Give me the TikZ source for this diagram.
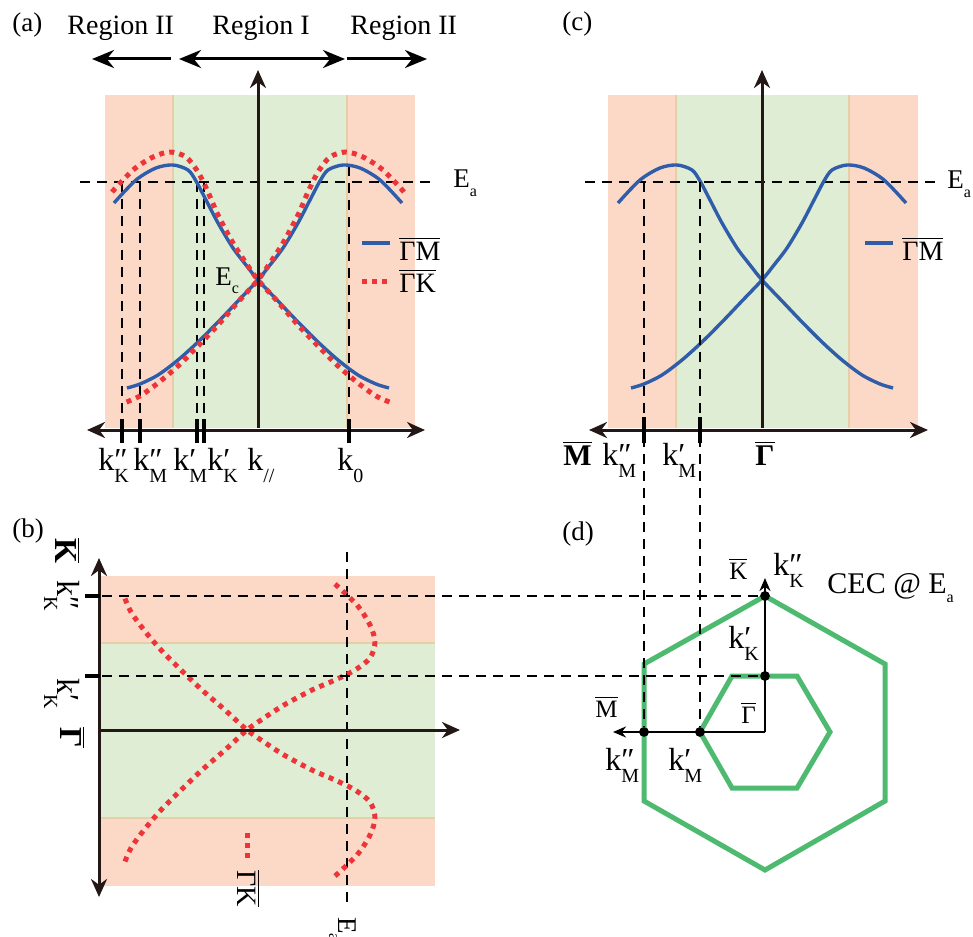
\documentclass[tikz,border=0pt]{standalone}
\usepackage{fontspec}
\setmainfont{Liberation Serif}
\usetikzlibrary{arrows.meta}

\definecolor{pinkbg}{HTML}{FCD9C7}
\definecolor{greenbg}{HTML}{DFEDD4}
\definecolor{edgetan}{HTML}{E6CFA6}
\definecolor{axisblk}{HTML}{231815}
\definecolor{bandblue}{HTML}{2F5DA9}
\definecolor{bandred}{HTML}{EE3438}
\definecolor{cecgreen}{HTML}{4DBA70}

% k with prime and subscript stacked
\newcommand{\kl}[2]{k\rlap{#1}\raisebox{-0.4em}{\fontsize{10}{10}\selectfont #2}}
\newcommand{\ovl}[1]{$\overline{\mbox{#1}}$}
\newcommand{\Elab}[1]{E\raisebox{-0.32em}{\fontsize{8}{8}\selectfont #1}}

\tikzset{
  kaxis/.style={line width=1.5pt, draw=axisblk},
  tick/.style={line width=1.6pt, draw=black},
  guide/.style={line width=1.45pt, dash pattern=on 5pt off 3.5pt},
  gmline/.style={draw=bandblue, line width=1.7pt},
  gkline/.style={draw=bandred, line width=2.5pt, dash pattern=on 2.5pt off 2.6pt},
  hexline/.style={draw=cecgreen, line width=2.5pt, line join=miter},
  bgedge/.style={draw=edgetan, line width=0.8pt},
  dot/.style={circle, fill=black, inner sep=0pt, minimum size=4.8pt},
  klabel/.style={anchor=base west, inner sep=0pt, font=\fontsize{16}{16}\selectfont},
  elabel/.style={anchor=base west, inner sep=0pt, font=\fontsize{13.5}{14}\selectfont},
  leglabel/.style={anchor=base west, inner sep=0pt, font=\fontsize{14}{14}\selectfont},
  panel/.style={anchor=base west, inner sep=0pt, font=\fontsize{13.5}{14}\selectfont},
  symlabel/.style={anchor=base west, inner sep=0pt, font=\fontsize{12.5}{13}\selectfont},
  boldlabel/.style={anchor=base west, inner sep=0pt, font=\fontsize{15}{15}\selectfont\bfseries},
  regtip/.tip={Stealth[length=11pt,width=9pt]},
  smalltip/.tip={Stealth[length=6.5pt,width=5.5pt]},
  % surface bands, drawn around the crossing point
  gmband/.pic={\draw[gmline] plot[smooth] coordinates {(-144,-77) (-122,-100) (-102,-112) (-85,-115) (-70,-110) (-62,-99) (-52,-80) (-40,-57) (-25,-32) (-12,-15) (0,0) (20,21) (40,42) (60,62) (80,80) (100,95) (118,104) (131,108)};},
  gkband/.pic={\draw[gkline] plot[smooth] coordinates {(-146,-88) (-125,-110) (-105,-123) (-88,-128) (-72,-123) (-60,-108) (-50,-88) (-40,-65) (-25,-37) (-12,-17) (0,0) (20,22) (40,45) (60,66) (80,86) (100,103) (118,116) (134,123)};}
}

\begin{document}
\begin{tikzpicture}[x=0.5pt, y=-0.5pt, >={Stealth[length=9pt,width=8pt]}, line join=round]
\useasboundingbox (0,0) rectangle (973,936);

% backgrounds: region I green, region II pink
\fill[pinkbg] (105,95) rectangle (415,428);
\fill[greenbg] (173,95) rectangle (347,428);
\draw[bgedge] (173,95) -- (173,428) (347,95) -- (347,428);
\fill[pinkbg] (608,95) rectangle (918,428);
\fill[greenbg] (676,95) rectangle (849,428);
\draw[bgedge] (676,95) -- (676,428) (849,95) -- (849,428);
\fill[pinkbg] (100,576) rectangle (435,886);
\fill[greenbg] (100,643) rectangle (435,818);
\draw[bgedge] (100,643) -- (435,643) (100,818) -- (435,818);

% points of the CEC in (d)
\coordinate (G) at (765,732);
\node[dot] (kKpp) at (765,596) {};
\node[dot] (kKp) at (765,676) {};
\node[dot] (kMpp) at (644,732) {};
\node[dot] (kMp) at (700,732) {};

% ---------------- (a) ----------------
\node[panel] (pa) at (12,32) {(a)};
\node[leglabel] (reg2l) at (67,35) {Region II};
\node[leglabel] (reg1) at (212,35) {Region I};
\node[leglabel] (reg2r) at (350,35) {Region II};
\draw[line width=1.5pt, regtip-] (92,59) -- (171,59);
\draw[line width=1.5pt, regtip-regtip] (179,59) -- (345,59);
\draw[line width=1.5pt, -regtip] (347,59) -- (427,59);

\coordinate (aEl) at (80,182);
\coordinate (aEr) at (436,182);
\draw[guide] (aEl) -- (aEr);
\node[elabel] (aEa) at (453,188) {\Elab{a}};
\foreach \x in {122,140,197,204}
  \draw[guide] (\x,182) -- (\x,430);
\draw[guide] (349,166) -- (349,430);

\pic at (258,280) {gmband};
\pic[xscale=-1] at (258,280) {gmband};
\pic at (258,280) {gkband};
\pic[xscale=-1] at (258,280) {gkband};

\coordinate (aL) at (87,430);
\coordinate (aR) at (425,430);
\draw[kaxis,<->] (aL) -- (aR);
\draw[kaxis,->] (258,428) -- (258,70);
\foreach \x in {122,140,197,204,349}
  \draw[tick] (\x,419) -- (\x,443);

\node[elabel] (aEc) at (215,285) {\Elab{c}};
\draw[gmline] (362,243) -- (390,243);
\node[leglabel] (aGM) at (399,260) {\ovl{ΓM}};
\draw[gkline] (362,281) -- (390,281);
\node[leglabel] (aGK) at (399,292) {\ovl{ΓK}};

\node[klabel] (akKpp) at (98,470) {\kl{″}{K}};
\node[klabel] (akMpp) at (133,470) {\kl{″}{M}};
\node[klabel] (akMp) at (173,470) {\kl{′}{M}};
\node[klabel] (akKp) at (207,470) {\kl{′}{K}};
\node[klabel] (akpar) at (247,470) {\kl{}{//}};
\node[klabel] (ak0) at (337,470) {\kl{}{0}};

% ---------------- (c) ----------------
\node[panel] (pc) at (562,31) {(c)};
\coordinate (cEl) at (585,182);
\coordinate (cEr) at (940,182);
\draw[guide] (cEl) -- (cEr);
\node[elabel] (cEa) at (947,189) {\Elab{a}};

\pic at (762,280) {gmband};
\pic[xscale=-1] at (762,280) {gmband};

\coordinate (cL) at (589,430);
\coordinate (cR) at (928,430);
\draw[kaxis,<->] (cL) -- (cR);
\draw[kaxis,->] (762,428) -- (762,70);
\foreach \x in {644,700}
  \draw[tick] (\x,417) -- (\x,443);

\draw[gmline] (865,243) -- (893,243);
\node[leglabel] (cGM) at (902,260) {\ovl{ΓM}};

\node[boldlabel] (cM) at (563,465) {\ovl{M}};
\node[klabel] (ckMpp) at (602,465) {\kl{″}{M}};
\node[klabel] (ckMp) at (662,465) {\kl{′}{M}};
\node[boldlabel] (cG) at (755,465) {\ovl{Γ}};

% ---------------- (b) ----------------
\node[panel] (pb) at (12,537) {(b)};
\coordinate (bKpp) at (85,596);
\coordinate (bKp) at (85,676);
\draw[guide] (347,552) -- (347,908);

\pic[rotate=-90] at (247,730) {gkband};
\pic[rotate=-90, xscale=-1] at (247,730) {gkband};

\draw[kaxis,<->] (99,897) -- (99,558);
\draw[kaxis,->] (99,730) -- (460,730);
\draw[tick] (bKpp) -- (100,596);
\draw[tick] (bKp) -- (100,676);

\draw[gkline] (247,833) -- (247,858);
\node[leglabel, rotate=-90] (bGK) at (237,870) {\ovl{ΓK}};
\node[elabel, rotate=-90] (bEa) at (338,917) {\Elab{a}};

\node[boldlabel, font=\fontsize{16}{16}\selectfont\bfseries, rotate=-90] (bK) at (55,538) {\ovl{K}};
\node[klabel, rotate=-90] (bkKpp) at (57,580) {\kl{″}{K}};
\node[klabel, rotate=-90] (bkKp) at (57,678) {\kl{′}{K}};
\node[boldlabel, font=\fontsize{16}{16}\selectfont\bfseries, rotate=-90] (bG) at (60,727) {\ovl{Γ}};

% ---------------- (d) ----------------
\node[panel] (pd) at (562,540) {(d)};
\draw[hexline] (765,596) -- (885,664) -- (885,801) -- (765,870) -- (644,801) -- (644,664) -- cycle;
\draw[hexline] (700,732) -- (732,676) -- (797,676) -- (830,732) -- (797,788) -- (732,788) -- cycle;

\coordinate (dKtip) at (765,578);
\coordinate (dMtip) at (613,732);
\draw[line width=1.3pt, -smalltip] (G) -- (dKtip);
\draw[line width=1.3pt, -smalltip] (G) -- (dMtip);

% guides linking the panels
\draw[guide] (bKpp) -- (kKpp);
\draw[guide] (bKp) -- (kKp);
\draw[guide] (644,182) -- (kMpp);
\draw[guide] (700,182) -- (kMp);

\node[dot] at (kKpp) {};
\node[dot] at (kKp) {};
\node[dot] at (kMpp) {};
\node[dot] at (kMp) {};

\node[symlabel] (dK) at (729,579) {\ovl{K}};
\node[klabel] (dkKpp) at (773,575) {\kl{″}{K}};
\node[anchor=base west, inner sep=0pt, font=\fontsize{15}{15}\selectfont] (cec) at (827,593) {CEC @ \Elab{a}};
\node[klabel] (dkKp) at (728,648) {\kl{′}{K}};
\node[symlabel] (dG) at (741,723) {\ovl{Γ}};
\node[symlabel] (dM) at (595,717) {\ovl{M}};
\node[klabel] (dkMpp) at (605,770) {\kl{″}{M}};
\node[klabel] (dkMp) at (668,770) {\kl{′}{M}};
\end{tikzpicture}
\end{document}
